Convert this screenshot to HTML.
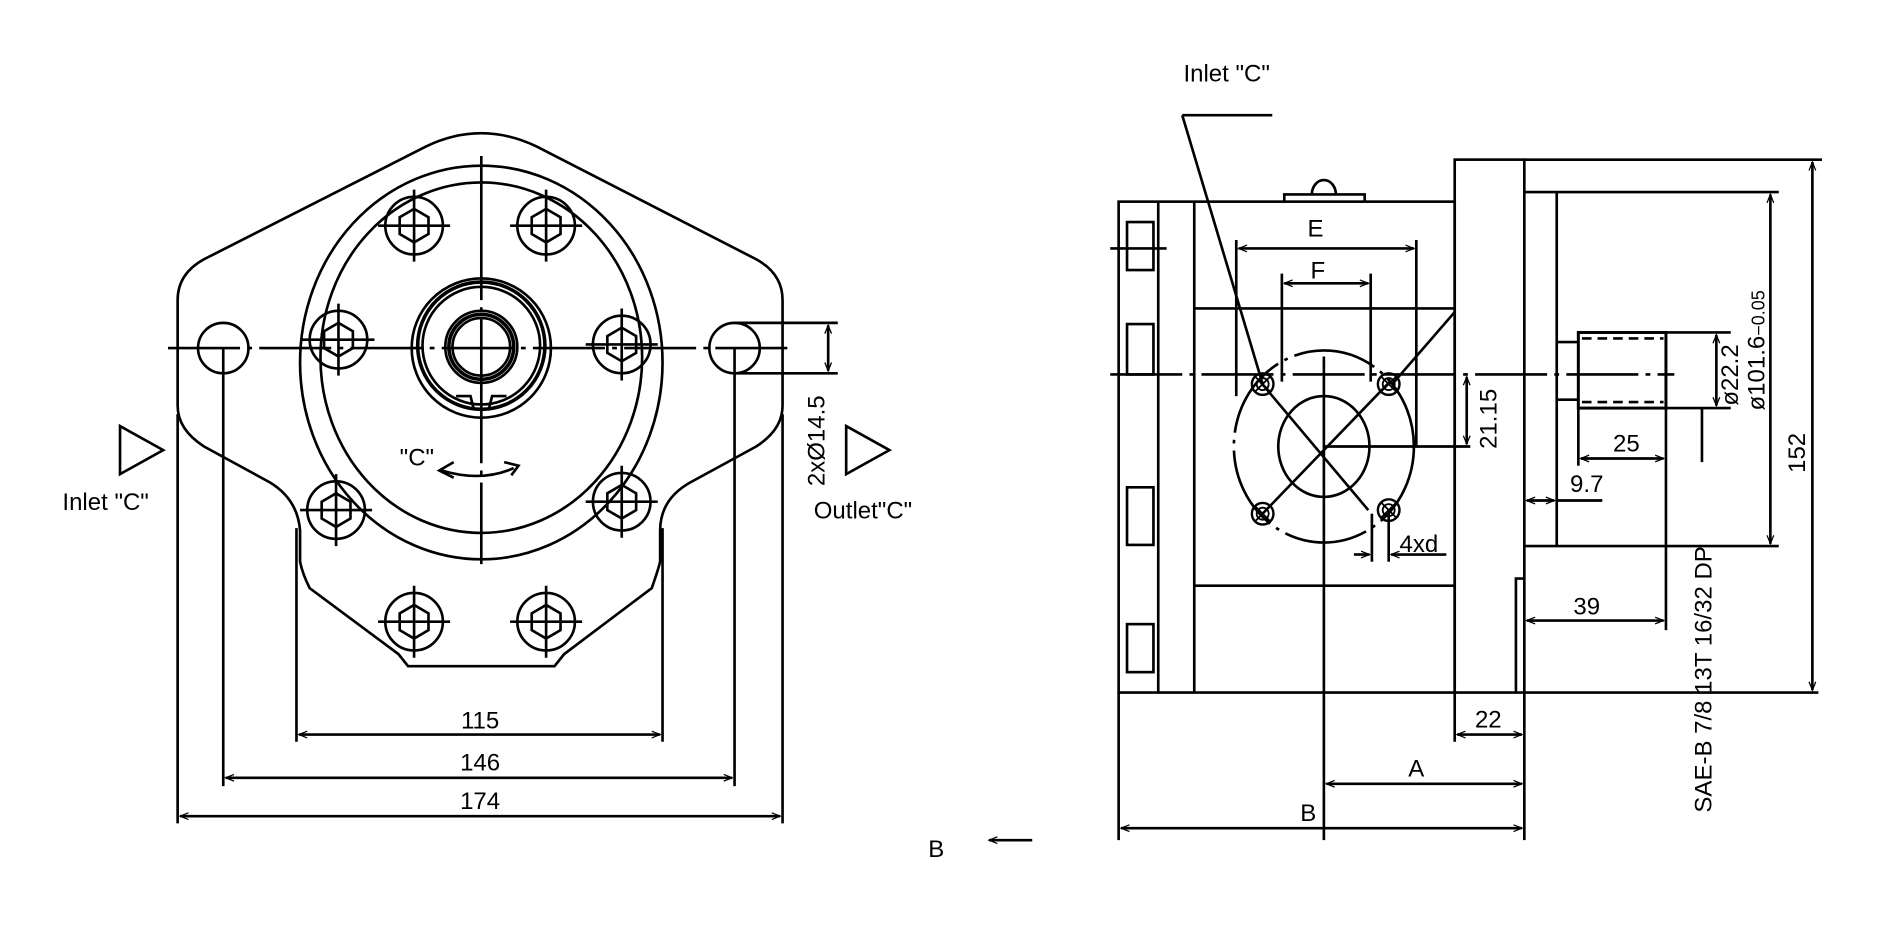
<!DOCTYPE html>
<html><head><meta charset="utf-8"><style>
html,body{margin:0;padding:0;background:#fff;}
svg{display:block;}
text{font-family:"Liberation Sans",sans-serif;font-size:20px;fill:#000;}
</style></head><body>
<svg width="1882" height="941" viewBox="0 0 1568 784" preserveAspectRatio="none" xmlns="http://www.w3.org/2000/svg">
<defs>
<marker id="a" viewBox="0 0 10 10" refX="10" refY="5" markerWidth="12" markerHeight="7" orient="auto-start-reverse" markerUnits="userSpaceOnUse"><path d="M0,1 L10,5 L0,9" fill="none" stroke="#000" stroke-width="1.5"/></marker>
<g id="bolt"><circle r="24" fill="none" stroke="#000" stroke-width="2.2"/><polygon points="0,-14 12,-7 12,7 0,14 -12,7 -12,-7" fill="none" stroke="#000" stroke-width="2.2"/><line x1="-30" y1="0" x2="30" y2="0" stroke="#000" stroke-width="2.2"/><line x1="0" y1="-30" x2="0" y2="30" stroke="#000" stroke-width="2.2"/></g>
<g id="sh"><circle r="9" fill="none" stroke="#000" stroke-width="2"/><circle r="5" fill="none" stroke="#000" stroke-width="1.5"/><line x1="-6" y1="-6" x2="6" y2="6" stroke="#000" stroke-width="1.5"/><line x1="6" y1="-6" x2="-6" y2="6" stroke="#000" stroke-width="1.5"/></g>
</defs>
<g fill="none" stroke="#000" stroke-width="2.2">
<path d="M148,250 Q148,228 170,216 L355,122 Q401,100 447,122 L630,216 Q652,228 652,250 L652,338 Q652,358 630,372 L575,402 Q550,416 550,442 L550,468 Q548,476 543,490 L470,545 L462,555 L340,555 L332,545 L258,490 Q252,478 250,468 L250,442 Q248,416 225,402 L170,372 Q148,358 148,338 Z"/>
<ellipse cx="401" cy="302" rx="151" ry="164"/>
<ellipse cx="401" cy="298" rx="134" ry="146"/>
<circle cx="401" cy="290" r="58"/>
<circle cx="401" cy="288" r="53" stroke-width="3"/>
<circle cx="401" cy="288" r="49"/>
<circle cx="401" cy="289" r="30"/>
<circle cx="401" cy="289" r="27" stroke-width="3"/>
<circle cx="401" cy="289" r="24"/>
<path d="M380,330 L392,330 L395,342 M422,330 L410,330 L407,342"/>
<circle cx="186" cy="290" r="21"/>
<circle cx="612" cy="290" r="21"/>
</g>
<use href="#bolt" x="282" y="283"/><use href="#bolt" x="518" y="287"/>
<use href="#bolt" x="345" y="188"/><use href="#bolt" x="455" y="188"/>
<use href="#bolt" x="280" y="425"/><use href="#bolt" x="518" y="418"/>
<use href="#bolt" x="345" y="518"/><use href="#bolt" x="455" y="518"/>
<g fill="none" stroke="#000" stroke-width="2.2">
<line x1="140" y1="290" x2="660" y2="290" stroke-dasharray="60,6,4,6"/>
<line x1="401" y1="130" x2="401" y2="470" stroke-dasharray="120,6,4,6"/>
<path d="M368,392 Q401,402 428,390" />
<path d="M378,385 L366,392 L378,398" />
<path d="M420,385 L432,388 L426,396"/>
<line x1="148" y1="345" x2="148" y2="686"/>
<line x1="652" y1="345" x2="652" y2="686"/>
<line x1="186" y1="290" x2="186" y2="655"/>
<line x1="612" y1="290" x2="612" y2="655"/>
<line x1="247" y1="440" x2="247" y2="618"/>
<line x1="552" y1="440" x2="552" y2="618"/>
<line x1="249" y1="612" x2="550" y2="612" marker-start="url(#a)" marker-end="url(#a)"/>
<line x1="188" y1="648" x2="610" y2="648" marker-start="url(#a)" marker-end="url(#a)"/>
<line x1="150" y1="680" x2="650" y2="680" marker-start="url(#a)" marker-end="url(#a)"/>
<line x1="612" y1="269" x2="698" y2="269"/>
<line x1="612" y1="311" x2="698" y2="311"/>
<line x1="690" y1="271" x2="690" y2="309" marker-start="url(#a)" marker-end="url(#a)"/>
<path d="M100,355 L136,375 L100,395 Z"/>
<path d="M705,355 L741,375 L705,395 Z"/>
<rect x="932" y="168" width="280" height="409"/>
<line x1="995" y1="168" x2="995" y2="577"/>
<line x1="965" y1="168" x2="965" y2="577"/>
<rect x="939" y="185" width="22" height="40"/>
<rect x="939" y="270" width="22" height="42"/>
<rect x="939" y="406" width="22" height="48"/>
<rect x="939" y="520" width="22" height="40"/>
<line x1="925" y1="207" x2="972" y2="207"/>
<path d="M1070,168 L1070,162 L1137,162 L1137,168 M1093,162 A10,12 0 0 1 1113,162"/>
<line x1="995" y1="257" x2="1212" y2="257"/>
<line x1="995" y1="488" x2="1212" y2="488"/>
<rect x="1212" y="133" width="58" height="444"/>
<line x1="1270" y1="133" x2="1518" y2="133"/>
<line x1="1270" y1="160" x2="1482" y2="160"/>
<line x1="1297" y1="160" x2="1297" y2="455"/>
<line x1="1270" y1="455" x2="1482" y2="455"/>
<path d="M1263,577 L1263,482 L1270,482"/>
<line x1="1270" y1="577" x2="1515" y2="577"/>
<rect x="1315" y="277" width="73" height="63" stroke-width="2.5"/>
<line x1="1318" y1="282" x2="1386" y2="282" stroke-dasharray="8,5"/>
<line x1="1318" y1="335" x2="1386" y2="335" stroke-dasharray="8,5"/>
<line x1="1297" y1="285" x2="1315" y2="285"/>
<line x1="1297" y1="333" x2="1315" y2="333"/>
<line x1="925" y1="312" x2="1395" y2="312" stroke-dasharray="60,6,4,6"/>
<ellipse cx="1103" cy="372" rx="75" ry="80" stroke-dasharray="70,6,3,6"/>
<ellipse cx="1103" cy="372" rx="38" ry="42"/>
<line x1="1050" y1="318" x2="1140" y2="425"/>
<line x1="1158" y1="318" x2="1050" y2="430"/>
<line x1="1103" y1="297" x2="1103" y2="700"/>
<line x1="1103" y1="372" x2="1225" y2="372"/>
<line x1="1030" y1="200" x2="1030" y2="330"/>
<line x1="1180" y1="200" x2="1180" y2="372"/>
<line x1="1032" y1="207" x2="1178" y2="207" marker-start="url(#a)" marker-end="url(#a)"/>
<line x1="1068" y1="228" x2="1068" y2="318"/>
<line x1="1142" y1="228" x2="1142" y2="318"/>
<line x1="1070" y1="236" x2="1140" y2="236" marker-start="url(#a)" marker-end="url(#a)"/>
<line x1="985" y1="96" x2="1060" y2="96"/>
<line x1="985" y1="96" x2="1052" y2="320"/>
<line x1="1160" y1="320" x2="1212" y2="260"/>
<line x1="1222" y1="314" x2="1222" y2="370" marker-start="url(#a)" marker-end="url(#a)"/>
<line x1="1143" y1="428" x2="1143" y2="468"/>
<line x1="1157" y1="428" x2="1157" y2="468"/>
<line x1="1128" y1="462" x2="1141" y2="462" marker-end="url(#a)"/>
<line x1="1205" y1="462" x2="1159" y2="462" marker-end="url(#a)"/>
<line x1="1315" y1="340" x2="1315" y2="388"/>
<line x1="1317" y1="382" x2="1386" y2="382" marker-start="url(#a)" marker-end="url(#a)"/>
<line x1="1388" y1="340" x2="1388" y2="525"/>
<line x1="1272" y1="417" x2="1295" y2="417" marker-start="url(#a)" marker-end="url(#a)"/>
<line x1="1297" y1="417" x2="1335" y2="417"/>
<line x1="1272" y1="517" x2="1386" y2="517" marker-start="url(#a)" marker-end="url(#a)"/>
<line x1="1212" y1="577" x2="1212" y2="618"/>
<line x1="1270" y1="577" x2="1270" y2="700"/>
<line x1="1214" y1="612" x2="1268" y2="612" marker-start="url(#a)" marker-end="url(#a)"/>
<line x1="1105" y1="653" x2="1268" y2="653" marker-start="url(#a)" marker-end="url(#a)"/>
<line x1="932" y1="577" x2="932" y2="700"/>
<line x1="934" y1="690" x2="1268" y2="690" marker-start="url(#a)" marker-end="url(#a)"/>
<line x1="1388" y1="277" x2="1442" y2="277"/>
<line x1="1388" y1="340" x2="1442" y2="340"/>
<line x1="1430" y1="279" x2="1430" y2="338" marker-start="url(#a)" marker-end="url(#a)"/>
<line x1="1418" y1="340" x2="1418" y2="385"/>
<line x1="1475" y1="162" x2="1475" y2="453" marker-start="url(#a)" marker-end="url(#a)"/>
<line x1="1510" y1="135" x2="1510" y2="575" marker-start="url(#a)" marker-end="url(#a)"/>
<line x1="860" y1="700" x2="824" y2="700" marker-end="url(#a)"/>
</g>
<use href="#sh" x="1052" y="320"/><use href="#sh" x="1157" y="320"/>
<use href="#sh" x="1052" y="428"/><use href="#sh" x="1157" y="425"/>
<text x="400" y="607" text-anchor="middle">115</text>
<text x="400" y="642" text-anchor="middle">146</text>
<text x="400" y="674" text-anchor="middle">174</text>
<text x="52" y="425">Inlet "C"</text>
<text x="678" y="432">Outlet"C"</text>
<text x="333" y="388" font-size="21">"C"</text>
<text transform="translate(687,405) rotate(-90)" font-size="20">2xØ14.5</text>
<text x="1022" y="68" text-anchor="middle">Inlet "C"</text>
<text x="1096" y="197" text-anchor="middle">E</text>
<text x="1098" y="232" text-anchor="middle">F</text>
<text transform="translate(1247,374) rotate(-90)">21.15</text>
<text x="1166" y="460">4xd</text>
<text x="1355" y="376" text-anchor="middle">25</text>
<text x="1322" y="410" text-anchor="middle">9.7</text>
<text x="1322" y="512" text-anchor="middle">39</text>
<text x="1240" y="606" text-anchor="middle">22</text>
<text x="1180" y="647" text-anchor="middle">A</text>
<text x="1090" y="684" text-anchor="middle">B</text>
<text x="780" y="714" font-size="26" text-anchor="middle">B</text>
<text transform="translate(1426,677) rotate(-90)" font-size="21">SAE-B  7/8  13T  16/32  DP</text>
<text transform="translate(1448,338) rotate(-90)">ø22.2</text>
<text transform="translate(1470,342) rotate(-90)">ø101.6<tspan font-size="15">−0.05</tspan></text>
<text transform="translate(1504,394) rotate(-90)">152</text>
</svg>
</body></html>
